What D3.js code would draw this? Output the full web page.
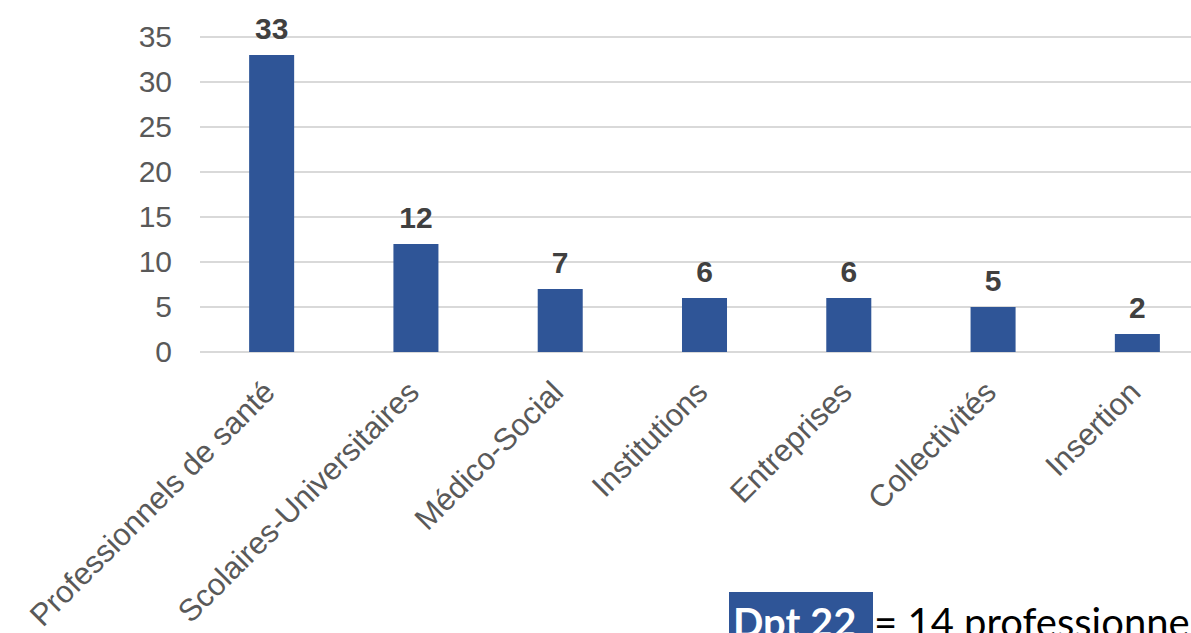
<!DOCTYPE html>
<html><head><meta charset="utf-8">
<script src="https://cdn.jsdelivr.net/npm/d3@7/dist/d3.min.js"></script>
<style>html,body{margin:0;padding:0;background:#fff;overflow:hidden}</style>
</head><body>
<svg id="c" width="1191" height="633"></svg>
<script>
const categories = ["Professionnels de santé","Scolaires-Universitaires","Médico-Social","Institutions","Entreprises","Collectivités","Insertion"];
const values = [33, 12, 7, 6, 6, 5, 2];
const yTicks = [0, 5, 10, 15, 20, 25, 30, 35];

const svg = d3.select("#c");
const x = d3.scaleBand().domain(categories).range([199.5, 1209.5]).paddingInner(0.688).paddingOuter(0.344);
const y = d3.scaleLinear().domain([0, 35]).range([352, 37]);

// gridlines
svg.append("g").selectAll("line").data(yTicks).join("line")
  .attr("x1", 200).attr("x2", 1191)
  .attr("y1", d => y(d)).attr("y2", d => y(d))
  .attr("stroke", "#D9D9D9").attr("stroke-width", 2);

// y axis labels
const yAxis = d3.axisLeft(y).tickValues(yTicks).tickSize(0).tickPadding(0);
const ga = svg.append("g").attr("transform", "translate(172,0)").call(yAxis);
ga.select(".domain").remove();
ga.selectAll("text").attr("font-family", "Liberation Sans, Arial, sans-serif")
  .attr("font-size", 30).attr("fill", "#595959");

// bars
svg.append("g").selectAll("rect").data(values).join("rect")
  .attr("x", (d, i) => x(categories[i]))
  .attr("width", x.bandwidth())
  .attr("y", d => y(d))
  .attr("height", d => y(0) - y(d))
  .attr("fill", "#2F5597");

// value labels
svg.append("g").selectAll("text").data(values).join("text")
  .attr("x", (d, i) => x(categories[i]) + x.bandwidth() / 2)
  .attr("y", d => y(d) - 16)
  .attr("text-anchor", "middle")
  .attr("font-family", "Liberation Sans, Arial, sans-serif")
  .attr("font-weight", "bold").attr("font-size", 30).attr("fill", "#404040")
  .text(d => d);

// category labels
svg.append("g").selectAll("text").data(categories).join("text")
  .attr("transform", d => `translate(${x(d) + x.bandwidth() / 2 + 5},${394}) rotate(-45)`)
  .attr("text-anchor", "end")
  .attr("font-family", "Liberation Sans, Arial, sans-serif")
  .attr("font-size", 31).attr("fill", "#595959")
  .text(d => d);

// footnote
const note = svg.append("g");
note.append("rect").attr("x", 729).attr("y", 592).attr("width", 144).attr("height", 50).attr("fill", "#2F5597");
note.append("text").attr("x", 733).attr("y", 637)
  .attr("font-family", "Lato, Carlito, Calibri, sans-serif").attr("font-size", 40)
  .attr("font-weight", "bold").attr("fill", "#fff").text("Dpt 22");
note.append("text").attr("x", 874).attr("y", 637)
  .attr("font-family", "Lato, Carlito, Calibri, sans-serif").attr("font-size", 40)
  .attr("fill", "#000").text("= 14 professionnels");
</script>
</body></html>
